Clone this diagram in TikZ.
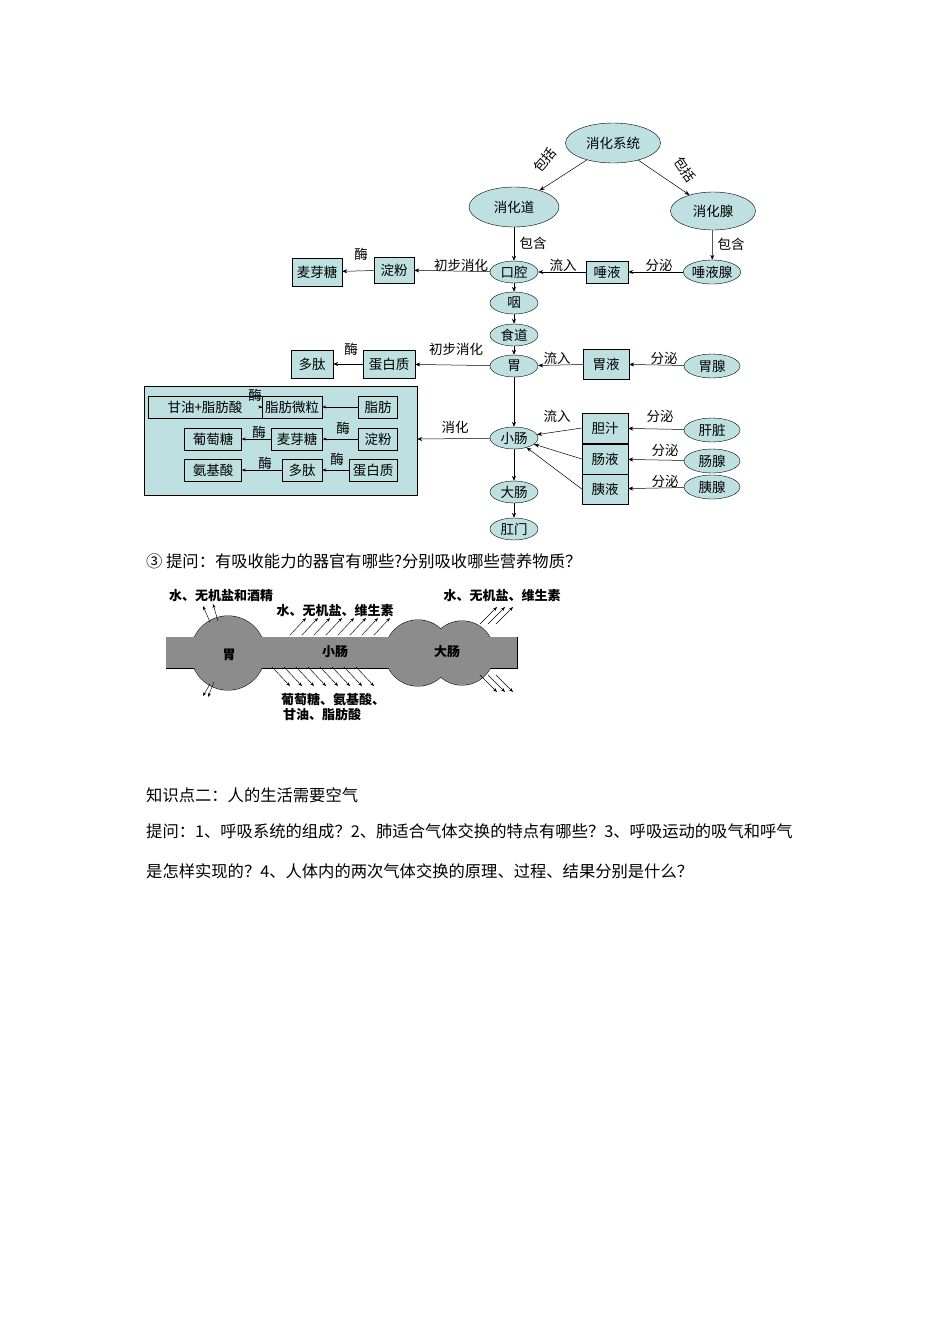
\documentclass[tikz,border=0pt]{standalone}
\usepackage{fontspec}
\newfontfamily\cjk{Noto Sans CJK SC}
\usetikzlibrary{shapes.geometric,arrows.meta}
\definecolor{fillc}{HTML}{BFE0E0}
\definecolor{organ}{HTML}{8C8C8C}
\tikzset{
 ell/.style={ellipse,draw,fill=fillc,inner sep=0pt,font=\cjk\fontsize{13.5}{13.5}\selectfont},
 bx/.style={rectangle,draw,fill=fillc,inner sep=0.5pt,font=\cjk\fontsize{13.5}{13.5}\selectfont},
 lb/.style={font=\cjk\fontsize{13.5}{13.5}\selectfont,inner sep=0pt},
 ar/.style={-{Stealth[length=5pt,width=4pt]},line width=0.5pt},
 sa/.style={-{Stealth[length=4pt,width=3pt]},line width=0.45pt},
 tx/.style={font=\cjk\fontsize{16.3}{16.3}\selectfont,anchor=west,inner sep=0pt},
 ot/.style={font=\cjk\bfseries\fontsize{13}{13}\selectfont,inner sep=0pt}
}
\begin{document}
\begin{tikzpicture}[x=1pt,y=-1pt]
\useasboundingbox[fill=white] (0,0) rectangle (950,1344);
\node[ell,minimum width=95,minimum height=40] (sys) at (613,143) {消化系统};
\node[ell,minimum width=90,minimum height=40] (dao) at (514,207) {消化道};
\node[ell,minimum width=85,minimum height=38] (xian) at (713,211) {消化腺};
\foreach \n/\t/\y in {kq/口腔/272,yan/咽/303,sd/食道/335,wei/胃/366,xc/小肠/438,dc/大肠/492,gm/肛门/529}
  \node[ell,minimum width=48,minimum height=22] (\n) at (514,\y) {\t};
\node[ell,minimum width=56,minimum height=24] (tyx) at (712,272) {唾液腺};
\node[ell,minimum width=56,minimum height=24] (wx) at (712,366) {胃腺};
\node[ell,minimum width=56,minimum height=24] (gz) at (712,430) {肝脏};
\node[ell,minimum width=56,minimum height=24] (cx) at (712,461) {肠腺};
\node[ell,minimum width=56,minimum height=24] (yx) at (712,487) {胰腺};
\node[bx,minimum width=42,minimum height=22] (ty) at (607,272) {唾液};
\node[bx,minimum width=46,minimum height=30] (wy) at (606,364) {胃液};
\node[bx,minimum width=46,minimum height=30] (dz) at (605,428) {胆汁};
\node[bx,minimum width=46,minimum height=30] (cy) at (605,459) {肠液};
\node[bx,minimum width=46,minimum height=30] (yy) at (605,489) {胰液};
\node[bx,minimum width=40,minimum height=26] (df) at (394,270) {淀粉};
\node[bx,minimum width=50,minimum height=28] (myt) at (317,272) {麦芽糖};
\node[bx,minimum width=52,minimum height=28] (dbz) at (389,364) {蛋白质};
\node[bx,minimum width=42,minimum height=28] (dt) at (312,364) {多肽};
\node[draw,fill=fillc,minimum width=273,minimum height=109,inner sep=0pt] (big) at (280.5,440.5) {};
\node[bx,minimum width=114,minimum height=22] (r1a) at (205,407) {甘油+脂肪酸};
\node[bx,minimum width=60,minimum height=22] (r1b) at (292,407) {脂肪微粒};
\node[bx,minimum width=39,minimum height=22] (r1c) at (378,407) {脂肪};
\node[bx,minimum width=57,minimum height=22] (r2a) at (213,439) {葡萄糖};
\node[bx,minimum width=51,minimum height=22] (r2b) at (297,439) {麦芽糖};
\node[bx,minimum width=39,minimum height=22] (r2c) at (378,439) {淀粉};
\node[bx,minimum width=57,minimum height=22] (r3a) at (213,470) {氨基酸};
\node[bx,minimum width=40,minimum height=22] (r3b) at (302,470) {多肽};
\node[bx,minimum width=48,minimum height=22] (r3c) at (373,470) {蛋白质};
\foreach \a/\b in {r1c/r1b,r1b/r1a,r2c/r2b,r2b/r2a,r3c/r3b,r3b/r3a} \draw[sa] (\a) -- (\b);
\draw[ar] (sys) -- (dao); \draw[ar] (sys) -- (xian);
\draw[ar] (dao) -- (kq); \draw[ar] (xian) -- (tyx);
\draw[ar] (kq) -- (yan); \draw[ar] (yan) -- (sd); \draw[ar] (sd) -- (wei);
\draw[ar] (wei) -- (xc); \draw[ar] (xc) -- (dc); \draw[ar] (dc) -- (gm);
\draw[ar] (tyx) -- (ty); \draw[ar] (ty) -- (kq);
\draw[ar] (wx) -- (wy); \draw[ar] (wy) -- (wei);
\draw[ar] (gz) -- (dz); \draw[ar] (cx) -- (cy); \draw[ar] (yx) -- (yy);
\draw[ar] (dz.west) -- (xc); \draw[ar] (cy.west) -- (xc); \draw[ar] (yy.west) -- (xc);
\draw[ar] (kq) -- (df); \draw[ar] (df) -- (myt);
\draw[ar] (wei) -- (dbz); \draw[ar] (dbz) -- (dt);
\draw[ar] (xc) -- (big);
\node[lb,rotate=50] at (545,160) {包括};
\node[lb,rotate=-55] at (685,170) {包括};
\node[lb] at (533,243) {包含}; \node[lb] at (731,244) {包含};
\node[lb] at (461,265) {初步消化}; \node[lb] at (456,349) {初步消化};
\node[lb] at (563,265) {流入}; \node[lb] at (557,358) {流入}; \node[lb] at (557,416) {流入};
\node[lb] at (659,265) {分泌}; \node[lb] at (664,358) {分泌}; \node[lb] at (660,416) {分泌};
\node[lb] at (665,450) {分泌}; \node[lb] at (665,481) {分泌};
\node[lb] at (455,427) {消化};
\node[lb] at (361,254) {酶}; \node[lb] at (351,349) {酶};
\node[lb] at (255,395) {酶}; \node[lb] at (259,432) {酶}; \node[lb] at (265,463) {酶};
\node[lb] at (343,428) {酶}; \node[lb] at (337,459) {酶};
\node[tx] (q3) at (146,561) {③ 提问：有吸收能力的器官有哪些?分别吸收哪些营养物质？};
\node[tx] (k2) at (146,795) {知识点二：人的生活需要空气};
\node[tx] (t1) at (146,831) {提问：1、呼吸系统的组成？2、肺适合气体交换的特点有哪些？3、呼吸运动的吸气和呼气};
\node[tx] (t2) at (146,871) {是怎样实现的？4、人体内的两次气体交换的原理、过程、结果分别是什么？};
\begin{scope}[line width=1pt]
\draw (166,637) rectangle (517,668);
\draw (228,653) circle[radius=37];
\draw (418,653) circle[radius=33];
\draw (462,653) circle[radius=32];
\end{scope}
\fill[organ] (166,637) rectangle (517,668);
\fill[organ] (228,653) circle[radius=37];
\fill[organ] (418,653) circle[radius=33];
\fill[organ] (462,653) circle[radius=32];
\node[ot] at (229,655) {胃}; \node[ot] at (335,652) {小肠};
\node[ot] at (447,652) {大肠};
\draw[sa] (210,622) -- (203,606); \draw[sa] (218,621) -- (213,604);
\draw[sa] (210,684) -- (203,696); \draw[sa] (214,682) -- (208,697);
\foreach \i in {0,...,7} \draw[sa] (290+\i*12,635) -- (306+\i*12,618);
\foreach \i in {0,...,7} \draw[sa] (272+\i*12,667) -- (290+\i*12,686);
\foreach \i in {0,1,2} \draw[sa] (480+\i*8,624) -- (497+\i*8,607);
\foreach \i in {0,1,2} \draw[sa] (480+\i*8,675) -- (497+\i*8,692);
\node[ot] at (221,596) {水、无机盐和酒精};
\node[ot] at (335,611) {水、无机盐、维生素};
\node[ot] at (502,596) {水、无机盐、维生素};
\node[ot] at (333,699) {葡萄糖、氨基酸、};
\node[ot] at (322,714) {甘油、脂肪酸};
\end{tikzpicture}
\end{document}
